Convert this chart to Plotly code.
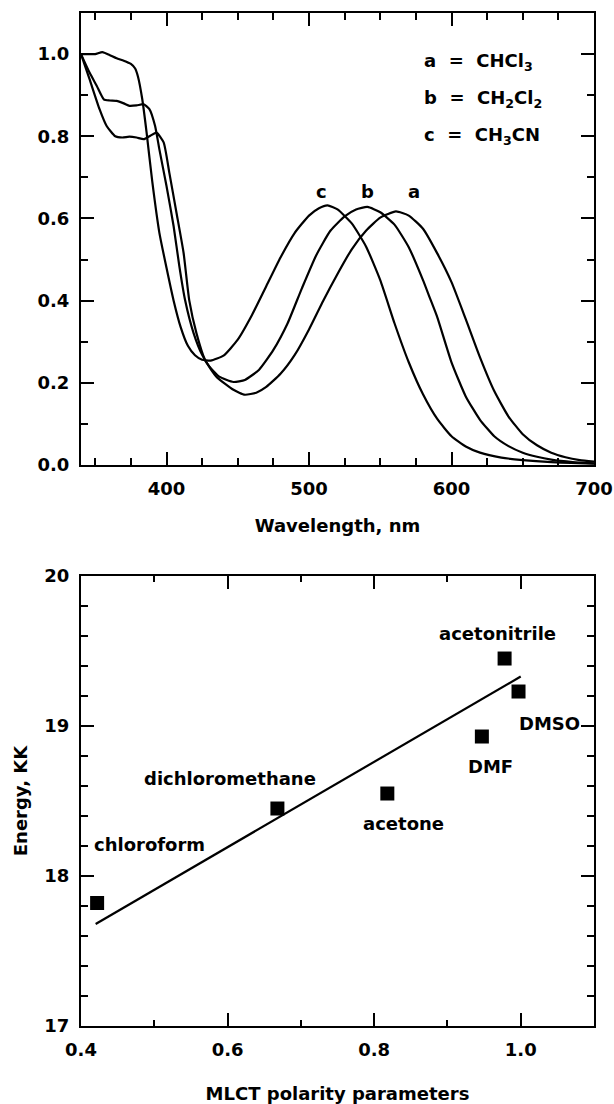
import plotly.graph_objects as go

# ---------------- data: absorption spectra (normalised) ----------------
wl_c = [340, 345, 350, 355, 360, 365, 370, 375, 378, 380, 383, 386, 390, 395, 400, 405, 410, 415, 420, 425, 431,
        440, 450, 460, 470, 480, 490, 500, 507, 513, 520, 530, 540, 550, 560, 570, 580, 590, 600, 610, 620, 635,
        650, 670, 700]
ab_c = [1.00, 1.00, 1.00, 1.005, 0.998, 0.99, 0.984, 0.976, 0.965, 0.945, 0.89, 0.81, 0.69, 0.565, 0.48, 0.40,
        0.335, 0.29, 0.267, 0.256, 0.254, 0.266, 0.305, 0.365, 0.435, 0.505, 0.565, 0.607, 0.625, 0.632, 0.622,
        0.588, 0.532, 0.45, 0.345, 0.25, 0.172, 0.112, 0.07, 0.045, 0.03, 0.018, 0.012, 0.007, 0.003]

wl_b = [340, 346, 351, 356, 360, 365, 370, 374, 379, 384, 388, 392, 395, 400, 405, 409, 413, 419, 425, 430, 437,
        447, 455, 465, 475, 485, 495, 505, 515, 525, 533, 541, 550, 560, 570, 580, 585, 590, 600, 610, 620, 630,
        640, 650, 660, 670, 685, 700]
ab_b = [1.00, 0.955, 0.923, 0.89, 0.887, 0.886, 0.88, 0.874, 0.875, 0.878, 0.866, 0.825, 0.768, 0.679, 0.581,
        0.484, 0.402, 0.321, 0.268, 0.24, 0.215, 0.202, 0.207, 0.232, 0.28, 0.345, 0.43, 0.51, 0.57, 0.605, 0.622,
        0.628, 0.615, 0.585, 0.53, 0.45, 0.405, 0.36, 0.25, 0.167, 0.11, 0.07, 0.046, 0.03, 0.02, 0.013, 0.007,
        0.004]

wl_a = [340, 346, 353, 358, 364, 369, 374, 379, 384, 388, 393, 398, 402, 407, 412, 416, 421, 427, 435, 447, 455,
        463, 470, 480, 490, 500, 510, 520, 530, 540, 550, 561, 570, 580, 590, 600, 610, 620, 630, 640, 650, 660,
        670, 680, 690, 700]
ab_a = [1.00, 0.939, 0.866, 0.825, 0.80, 0.797, 0.799, 0.797, 0.793, 0.80, 0.809, 0.785, 0.711, 0.614, 0.516,
        0.40, 0.321, 0.256, 0.215, 0.183, 0.171, 0.176, 0.19, 0.222, 0.268, 0.33, 0.40, 0.465, 0.525, 0.57, 0.602,
        0.617, 0.607, 0.575, 0.515, 0.445, 0.355, 0.262, 0.18, 0.118, 0.075, 0.048, 0.03, 0.019, 0.012, 0.008]

curve_letters = ["c", "b", "a"]
legend_lines = ["a  =  CHCl<sub>3</sub>", "b  =  CH<sub>2</sub>Cl<sub>2</sub>", "c  =  CH<sub>3</sub>CN"]

# ---------------- data: MLCT energy vs polarity ----------------
solvents = ["chloroform", "dichloromethane", "acetone", "DMF", "acetonitrile", "DMSO"]
polarity = [0.422, 0.668, 0.818, 0.947, 0.978, 0.997]
energy = [17.82, 18.45, 18.55, 18.93, 19.45, 19.23]
fit_x = [0.42, 1.0]
fit_y = [17.68, 19.33]

# ---------------- figure ----------------
FONT = "DejaVu Sans"
FS = 18
fig = go.Figure()
line_style = dict(color="black", width=2.2, shape="spline", smoothing=0.5)
for wl, ab in [(wl_a, ab_a), (wl_b, ab_b), (wl_c, ab_c)]:
    fig.add_trace(go.Scatter(x=wl, y=ab, mode="lines", line=line_style, xaxis="x", yaxis="y",
                             hoverinfo="skip"))

fig.add_trace(go.Scatter(x=fit_x, y=fit_y, mode="lines", line=dict(color="black", width=2.2),
                         xaxis="x2", yaxis="y2"))
fig.add_trace(go.Scatter(x=polarity, y=energy, mode="markers",
                         marker=dict(symbol="square", size=14, color="black"),
                         xaxis="x2", yaxis="y2", text=solvents))

tickfont = dict(family=FONT, size=FS, color="black", weight="bold")
title_font = dict(family=FONT, size=FS, color="black", weight="bold")
common = dict(showline=True, linecolor="black", linewidth=2, mirror="allticks", ticks="inside",
              tickcolor="black", tickwidth=2, ticklen=13, showgrid=False, zeroline=False,
              tickfont=tickfont, ticklabelstandoff=6, automargin=False)

fig.update_layout(
    width=614, height=1104,
    margin=dict(l=81, r=20, t=13, b=78),
    paper_bgcolor="white", plot_bgcolor="white",
    showlegend=False,
    font=dict(family=FONT, color="black"),
    xaxis=dict(range=[340, 700], dtick=100, tick0=0, anchor="y", domain=[0, 1],
               minor=dict(dtick=25, ticklen=7, ticks="inside", tickcolor="black", tickwidth=2),
               title=dict(text="Wavelength, nm", font=title_font, standoff=22),
               **common),
    yaxis=dict(range=[0, 1.1], dtick=0.2, tick0=0, tickformat=".1f", anchor="x", domain=[0.5538, 1],
               minor=dict(dtick=0.1, ticklen=7, ticks="inside", tickcolor="black", tickwidth=2),
               **common),
    xaxis2=dict(range=[0.4, 1.1], dtick=0.2, tick0=0, tickformat=".1f", anchor="y2", domain=[0, 1],
                minor=dict(dtick=0.1, ticklen=6, ticks="inside", tickcolor="black", tickwidth=2),
                title=dict(text="MLCT polarity parameters", font=title_font, standoff=30),
                **common),
    yaxis2=dict(range=[17, 20], dtick=1, tick0=0, anchor="x2", domain=[0, 0.4442],
                minor=dict(dtick=0.2, ticklen=7, ticks="inside", tickcolor="black", tickwidth=2),
                title=dict(text="Energy, KK", font=title_font, standoff=12),
                **common),
)

ann_font = dict(family=FONT, size=FS, color="black", weight="bold")
# curve letters above peaks
letter_x = [509, 541, 574]
for letter, lx in zip(curve_letters, letter_x):
    fig.add_annotation(x=lx, y=0.666, xref="x", yref="y", text=letter, showarrow=False,
                       font=ann_font, yanchor="middle")
# legend text
legend_y = [0.98, 0.89, 0.80]
for txt, ly in zip(legend_lines, legend_y):
    fig.add_annotation(x=579, y=ly, xref="x", yref="y", text=txt, showarrow=False,
                       font=ann_font, xanchor="left", yanchor="middle")

# solvent labels
label_pos = [(0.415, 18.21, "left"), (0.603, 18.65, "center"), (0.840, 18.35, "center"),
             (0.959, 18.73, "center"), (0.968, 19.62, "center"), (1.039, 19.02, "center")]
for name, (lx, ly, anc) in zip(solvents, label_pos):
    fig.add_annotation(x=lx, y=ly, xref="x2", yref="y2", text=name, showarrow=False,
                       font=ann_font, xanchor=anc, yanchor="middle")

fig.write_html("out.html")
